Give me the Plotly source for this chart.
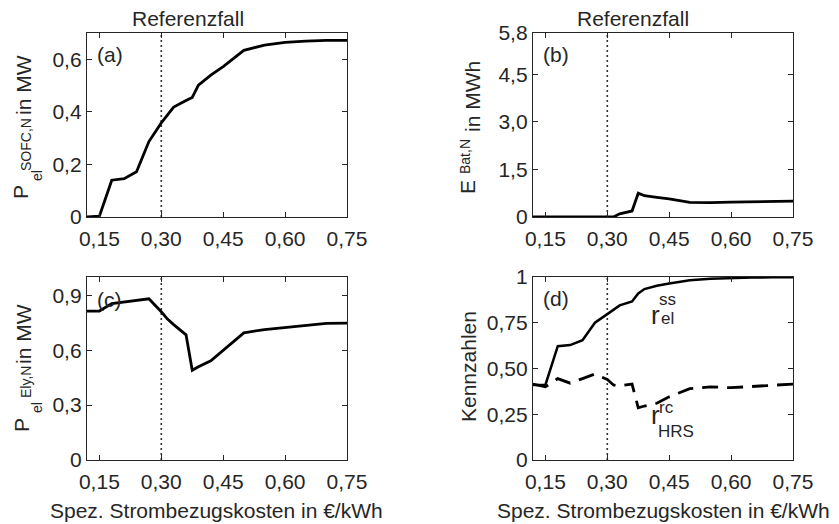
import plotly.graph_objects as go

# Spezifische Strombezugskosten in EUR/kWh
kosten = [0.12, 0.15, 0.18, 0.21, 0.24, 0.27, 0.30, 0.315, 0.33, 0.36, 0.375,
          0.39, 0.42, 0.45, 0.50, 0.55, 0.60, 0.65, 0.70, 0.75]

# (a) SOFC-Nennleistung in MW
p_sofc = [0.0, 0.003, 0.14, 0.146, 0.172, 0.287, 0.358, 0.39, 0.418, 0.443, 0.455,
          0.502, 0.54, 0.572, 0.634, 0.654, 0.664, 0.669, 0.672, 0.672]

# (b) Batteriekapazitaet in MWh
e_bat = [0.0, 0.0, 0.0, 0.0, 0.0, 0.0, 0.0, 0.0, 0.1, 0.19, 0.75,
         0.67, 0.62, 0.57, 0.46, 0.45, 0.47, 0.48, 0.49, 0.50]

# (c) Elektrolyseur-Nennleistung in MW
p_ely = [0.814, 0.814, 0.855, 0.865, 0.872, 0.881, 0.81, 0.77, 0.74, 0.684, 0.49,
         0.51, 0.542, 0.6, 0.695, 0.713, 0.725, 0.736, 0.747, 0.748]

# (d) Kennzahlen: Eigenversorgungsgrad und Rueckverstromungsanteil
r_ss_el = [0.41, 0.41, 0.622, 0.628, 0.655, 0.75, 0.797, 0.82, 0.845, 0.866, 0.91,
           0.934, 0.952, 0.965, 0.982, 0.99, 0.995, 0.997, 0.998, 0.998]
r_rc_hrs = [0.415, 0.40, 0.445, 0.42, 0.445, 0.47, 0.44, 0.41, 0.405, 0.415, 0.285,
            0.295, 0.31, 0.345, 0.39, 0.40, 0.395, 0.402, 0.41, 0.415]

ref_kosten = 0.30

x_ticks = [0.15, 0.30, 0.45, 0.60, 0.75]
x_ticktext = ["0,15", "0,30", "0,45", "0,60", "0,75"]
y_ticks_a = [0, 0.2, 0.4, 0.6]
y_ticktext_a = ["0", "0,2", "0,4", "0,6"]
y_ticks_b = [0, 1.5, 3.0, 4.5, 5.8]
y_ticktext_b = ["0", "1,5", "3,0", "4,5", "5,8"]
y_ticks_c = [0, 0.3, 0.6, 0.9]
y_ticktext_c = ["0", "0,3", "0,6", "0,9"]
y_ticks_d = [0, 0.25, 0.5, 0.75, 1]
y_ticktext_d = ["0", "0,25", "0,50", "0,75", "1"]

W, H = 839, 524
FONT = "Liberation Sans, Arial, sans-serif"
INK = "#262626"
FS = 21


def px(x):
    return x / W


def py(y):
    return 1 - y / H


# axes boxes in pixels: (left, right, top, bottom)
boxes = {
    "a": (87, 347, 33, 217),
    "b": (533, 793, 33, 217),
    "c": (87, 347, 277, 460),
    "d": (533, 793, 277, 460),
}

fig = go.Figure()

panels = [
    ("a", "x", "y", [0, 0.7], y_ticks_a, y_ticktext_a),
    ("b", "x2", "y2", [0, 5.8], y_ticks_b, y_ticktext_b),
    ("c", "x3", "y3", [0, 1.0], y_ticks_c, y_ticktext_c),
    ("d", "x4", "y4", [0, 1.0], y_ticks_d, y_ticktext_d),
]

layout = dict(
    template="none",
    width=W, height=H, margin=dict(l=0, r=0, t=0, b=0, pad=0, autoexpand=False),
    paper_bgcolor="white", plot_bgcolor="white", showlegend=False,
    font=dict(family=FONT, size=FS, color=INK),
)

for key, xa, ya, yrange, yt, ytt in panels:
    l, r, t, b = boxes[key]
    xname = "xaxis" + xa[1:]
    yname = "yaxis" + ya[1:]
    layout[xname] = dict(
        domain=[px(l), px(r)], range=[0.12, 0.75], anchor=ya, automargin=False,
        tickvals=x_ticks, ticktext=x_ticktext, ticks="inside", ticklen=5,
        tickcolor=INK, tickwidth=1.2, showline=True, linecolor=INK, linewidth=1.3,
        mirror="ticks", showgrid=False, zeroline=False, ticklabelstandoff=3,
        tickfont=dict(family=FONT, size=FS, color=INK),
    )
    layout[yname] = dict(
        domain=[py(b), py(t)], range=yrange, anchor=xa, automargin=False,
        tickvals=yt, ticktext=ytt, ticks="inside", ticklen=5,
        tickcolor=INK, tickwidth=1.2, showline=True, linecolor=INK, linewidth=1.3,
        mirror="ticks", showgrid=False, zeroline=False,
        tickfont=dict(family=FONT, size=FS, color=INK),
    )
    # dotted reference line at the reference electricity price
    fig.add_trace(go.Scatter(
        x=[ref_kosten, ref_kosten], y=yrange, mode="lines", xaxis=xa, yaxis=ya,
        line=dict(color="#333333", width=1.6, dash="2px,3px"), hoverinfo="skip",
    ))

line_main = dict(color="black", width=2.8)

fig.add_trace(go.Scatter(x=kosten, y=p_sofc, mode="lines", xaxis="x", yaxis="y",
                         line=line_main))
fig.add_trace(go.Scatter(x=kosten, y=e_bat, mode="lines", xaxis="x2", yaxis="y2",
                         line=line_main))
fig.add_trace(go.Scatter(x=kosten, y=p_ely, mode="lines", xaxis="x3", yaxis="y3",
                         line=line_main))
fig.add_trace(go.Scatter(x=kosten, y=r_ss_el, mode="lines", xaxis="x4", yaxis="y4",
                         line=dict(color="black", width=2.5)))
fig.add_trace(go.Scatter(x=kosten, y=r_rc_hrs, mode="lines", xaxis="x4", yaxis="y4",
                         line=dict(color="black", width=2.8, dash="16px,9px")))

annotations = []


def text(t, x, y, size=FS, angle=0, xanchor="center", yanchor="middle"):
    annotations.append(dict(
        text=t, x=px(x), y=py(y), xref="paper", yref="paper",
        showarrow=False, textangle=angle, xanchor=xanchor, yanchor=yanchor,
        font=dict(family=FONT, size=size, color=INK), borderpad=0,
    ))


# titles above the top row
text("Referenzfall", 188, 19)
text("Referenzfall", 633, 19)

# panel letters
text("(a)", 96, 55, xanchor="left")
text("(b)", 542, 55, xanchor="left")
text("(c)", 96, 299, xanchor="left")
text("(d)", 542, 298, xanchor="left")

# x axis titles
text("Spez. Strombezugskosten in €/kWh", 216, 510)
text("Spez. Strombezugskosten in €/kWh", 663, 510)

# y axis titles with stacked sub- and superscripts
SUB = 14
text("P", 21, 192, angle=-90)
text("SOFC,N", 26, 145, size=SUB, angle=-90)
text("el", 37, 176, size=SUB, angle=-90)
text("in MW", 23, 85, angle=-90)

text("E", 468, 187, angle=-90)
text("Bat,N", 465, 157, size=SUB, angle=-90)
text("in MWh", 473, 97, angle=-90)

text("P", 21, 425, angle=-90)
text("Ely,N", 26, 382, size=SUB, angle=-90)
text("el", 37, 408, size=SUB, angle=-90)
text("in MW", 23, 334, angle=-90)

text("Kennzahlen", 468, 367, angle=-90)

# curve labels in panel (d)
text("r", 655, 315, size=26)
text("ss", 667, 299, size=17)
text("el", 667, 318, size=17)

text("r", 655, 415, size=26)
text("rc", 666, 407, size=17)
text("HRS", 676, 431, size=17)

layout["annotations"] = annotations
fig.update_layout(**layout)

fig.write_html("out.html")
